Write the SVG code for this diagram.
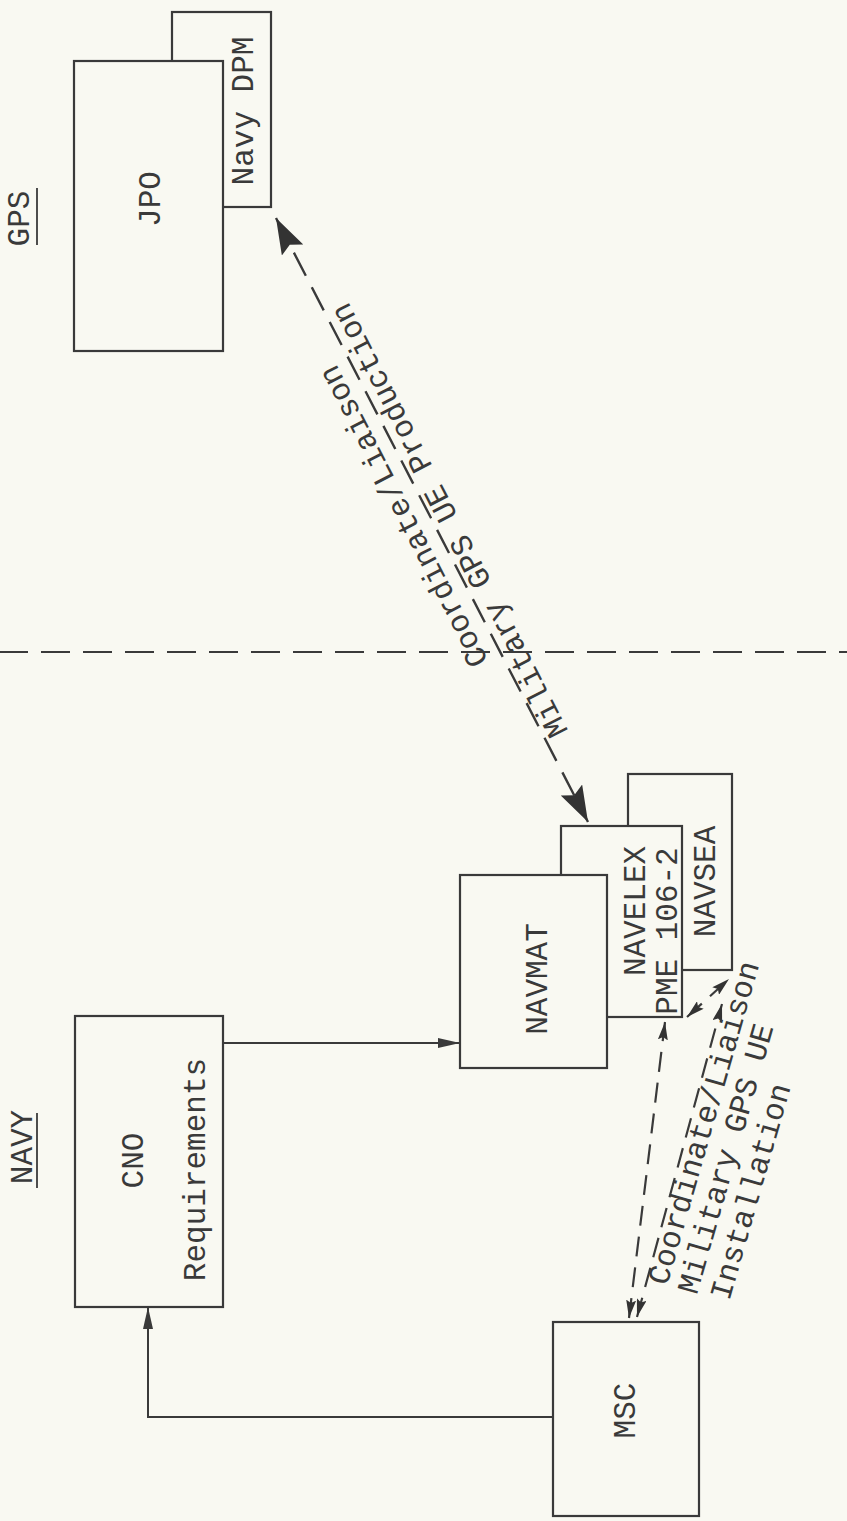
<svg xmlns="http://www.w3.org/2000/svg" width="847" height="1521" viewBox="0 0 847 1521">
<defs>
<style>
.bg{fill:#f9f9f2}
.box{fill:#f9f9f2;stroke:#3a3a3a;stroke-width:2.2}
.t{font-family:"Liberation Mono","DejaVu Sans Mono",monospace;font-size:31px;fill:#3a3a3a}
.c{text-anchor:middle}
.solid{fill:none;stroke:#3a3a3a;stroke-width:2}
.dash{fill:none;stroke:#3a3a3a;stroke-width:2.4;stroke-dasharray:26 13}
.dashs{fill:none;stroke:#3a3a3a;stroke-width:2.2;stroke-dasharray:20 11}
.sep{fill:none;stroke:#3a3a3a;stroke-width:2.2;stroke-dasharray:29 13}
.ul{stroke:#3a3a3a;stroke-width:1.8}
</style>
<marker id="big" markerUnits="userSpaceOnUse" markerWidth="36" markerHeight="24" refX="36" refY="12" orient="auto-start-reverse">
<path d="M0,0 L36,12 L0,24 L6,12 Z" fill="#333"/>
</marker>
<marker id="sm" markerUnits="userSpaceOnUse" markerWidth="18" markerHeight="10" refX="18" refY="5" orient="auto-start-reverse">
<path d="M0,0 L18,5 L0,10 L3,5 Z" fill="#333"/>
</marker>
<marker id="sol" markerUnits="userSpaceOnUse" markerWidth="22" markerHeight="10" refX="22" refY="5" orient="auto">
<path d="M0,0 L22,5 L0,10 Z" fill="#3a3a3a"/>
</marker>
</defs>
<rect class="bg" x="0" y="0" width="847" height="1521"/>

<g id="section-labels">
<text class="t c" transform="translate(29 218.5) rotate(-90)">GPS</text>
<line class="ul" x1="37" y1="188" x2="37" y2="245"/>
<text class="t c" transform="translate(32 1147) rotate(-90)">NAVY</text>
<line class="ul" x1="37" y1="1113" x2="37" y2="1188"/>
</g>

<g id="separator">
<line class="sep" x1="-1" y1="652" x2="848" y2="652"/>
</g>

<g id="navy-dpm">
<rect class="box" x="172" y="12" width="99" height="195"/>
<text class="t c" transform="translate(253 111) rotate(-90)">Navy DPM</text>
</g>
<g id="jpo">
<rect class="box" x="74" y="61" width="149" height="290"/>
<text class="t c" transform="translate(160 199) rotate(-90)">JPO</text>
</g>

<g id="cno">
<rect class="box" x="75" y="1016" width="148" height="291"/>
<text class="t c" transform="translate(143 1160.5) rotate(-90)">CNO</text>
<text class="t c" transform="translate(205 1169.5) rotate(-90)">Requirements</text>
</g>

<g id="navsea">
<rect class="box" x="628" y="774" width="104" height="196"/>
<text class="t c" transform="translate(715 881.5) rotate(-90)">NAVSEA</text>
</g>
<g id="navelex">
<rect class="box" x="561" y="826" width="121" height="191"/>
<text class="t c" transform="translate(645 911) rotate(-90)">NAVELEX</text>
<text class="t c" transform="translate(677 931) rotate(-90)">PME 106-2</text>
</g>
<g id="navmat">
<rect class="box" x="460" y="875" width="147" height="193"/>
<text class="t c" transform="translate(547 979) rotate(-90)">NAVMAT</text>
</g>

<g id="msc">
<rect class="box" x="553" y="1322" width="146" height="194"/>
<text class="t c" transform="translate(635 1410.5) rotate(-90)">MSC</text>
</g>

<g id="connectors">
<path class="solid" d="M223,1043 H460" marker-end="url(#sol)"/>
<path class="solid" d="M553,1417 H148 V1307" marker-end="url(#sol)"/>
<path class="dash" d="M276,218 L588,822" marker-start="url(#big)" marker-end="url(#big)"/>
<path class="dashs" d="M629,1318 L665,1022" marker-start="url(#sm)" marker-end="url(#sm)"/>
<path class="dashs" d="M637,1317 L722,1004" marker-start="url(#sm)" marker-end="url(#sm)"/>
<path class="dashs" d="M687,1017 L729,979" marker-start="url(#sm)" marker-end="url(#sm)"/>
</g>

<g id="connector-labels">
<g transform="translate(276 218) rotate(-117.17)">
<text class="t" x="-491" y="-13">Coordinate/Liaison</text>
<text class="t" x="-590" y="26">Military GPS UE Production</text>
</g>
<g transform="translate(661 1275) rotate(-74)">
<text class="t" x="-9.4" y="9">Coordinate/Liaison</text>
<text class="t" x="-9.8" y="40">Military GPS UE</text>
<text class="t" x="-6.7" y="73">Installation</text>
</g>
</g>
</svg>
